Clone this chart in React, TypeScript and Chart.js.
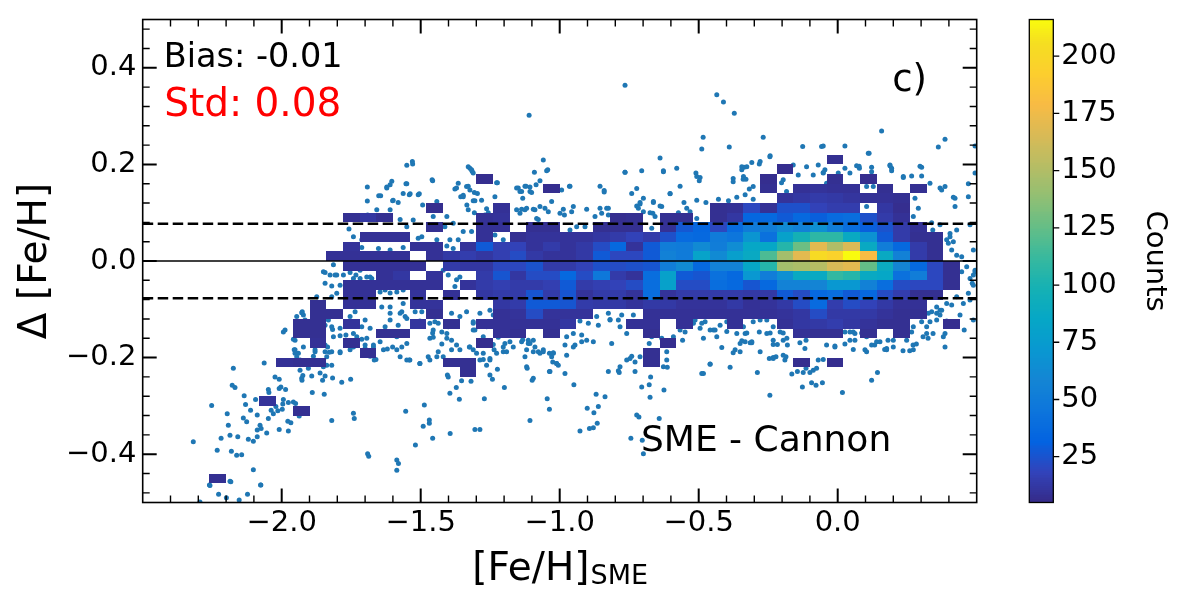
import React, { useEffect, useRef } from "react";
import { Chart, registerables } from "chart.js";

Chart.register(...registerables);

const FONT = "'DejaVu Sans', Arial, sans-serif";

// axes
const X_MIN = -2.5, X_MAX = 0.5, Y_MIN = -0.5, Y_MAX = 0.5;
const X_TICKS = [-2.0, -1.5, -1.0, -0.5, 0.0];
const Y_TICKS = [-0.4, -0.2, 0.0, 0.2, 0.4];
const X_MINOR = [-2.4, -2.3, -2.2, -2.1, -1.9, -1.8, -1.7, -1.6, -1.4, -1.3, -1.2, -1.1, -0.9, -0.8, -0.7, -0.6, -0.4, -0.3, -0.2, -0.1, 0.1, 0.2, 0.3, 0.4];
const Y_MINOR = [-0.48, -0.44, -0.36, -0.32, -0.28, -0.24, -0.16, -0.12, -0.08, -0.04, 0.04, 0.08, 0.12, 0.16, 0.24, 0.28, 0.32, 0.36, 0.44, 0.48];

// colorbar
const CB_MIN = 5, CB_MAX = 216;
const CB_TICKS = [25, 50, 75, 100, 125, 150, 175, 200];

// statistics
const BIAS = -0.01;
const STD = 0.077;
const ZERO_LINE = 0;

// 2D histogram binning: [yBinIndex, firstXBinIndex, counts...]
const BIN_X0 = -2.5, BIN_DX = 0.06, BIN_Y0 = -0.5, BIN_DY = 0.02;
const HIST_SEGMENTS: [number, number, number[]][] = [
  [35, 41, [8]],
  [34, 38, [7]],
  [33, 20, [7]], [33, 37, [7]], [33, 41, [8, 0, 7]],
  [32, 24, [7]], [32, 37, [8, 0, 9, 10, 9, 9, 0, 8, 0, 8]],
  [31, 38, [10, 12, 14, 13, 11, 9, 9, 8]],
  [30, 17, [7]], [30, 21, [9]], [30, 34, [8, 9, 20, 9, 24, 24, 18, 15, 15, 0, 12, 7]],
  [29, 12, [8, 12, 8]], [29, 20, [9, 10]], [29, 28, [7, 8, 0, 8, 8, 0, 8, 12, 35, 36, 28, 36, 30, 38, 40, 24, 14, 9]],
  [28, 17, [8]], [28, 20, [9, 9, 0, 8, 8, 0, 0, 8, 8, 8, 0, 9, 27, 35, 20, 38, 50, 52, 62, 55, 66, 52, 40, 30, 25, 14, 9]],
  [27, 13, [9, 9, 9]], [27, 20, [9, 0, 8, 10, 10, 10, 10, 12, 14, 18, 14, 24, 38, 36, 50, 46, 70, 42, 80, 98, 108, 108, 88, 68, 28, 14, 8, 8]],
  [26, 12, [10]], [26, 16, [9, 9, 0, 10, 28, 16, 18, 10, 14, 10, 13, 22, 36, 10, 28, 52, 50, 62, 52, 64, 85, 85, 105, 128, 170, 150, 166, 88, 52, 36, 14, 8]],
  [25, 11, [9, 9, 9, 9, 9, 0, 9, 13, 15, 12, 16, 22, 13, 10, 10, 13, 28, 20, 20, 28, 55, 50, 82, 62, 78, 88, 118, 145, 170, 203, 196, 216, 180, 88, 55, 14, 8]],
  [24, 12, [9, 9, 9, 9, 9, 0, 14, 12, 12, 20, 20, 25, 14, 14, 18, 24, 22, 24, 26, 52, 62, 36, 56, 56, 85, 105, 145, 148, 152, 165, 170, 125, 90, 58, 36, 20, 8]],
  [23, 14, [9, 12, 0, 10, 0, 0, 14, 26, 12, 22, 22, 36, 22, 48, 14, 10, 40, 80, 28, 26, 42, 36, 72, 52, 66, 88, 88, 110, 105, 88, 85, 42, 52, 20, 8]],
  [22, 12, [9, 9, 9, 9, 9, 9, 0, 10, 14, 16, 14, 14, 16, 28, 14, 16, 18, 22, 40, 80, 22, 22, 40, 36, 26, 36, 56, 56, 58, 72, 72, 55, 40, 22, 20, 20, 8]],
  [21, 12, [9, 9, 0, 0, 10, 0, 9, 0, 12, 14, 14, 26, 14, 26, 10, 14, 14, 10, 40, 10, 14, 14, 14, 14, 13, 13, 28, 22, 36, 40, 28, 36, 22, 15, 8, 8]],
  [20, 10, [8, 0, 9, 9, 0, 0, 10, 10, 0, 0, 0, 12, 14, 28, 28, 26, 14, 13, 13, 10, 13, 13, 10, 10, 10, 13, 9, 10, 13, 22, 38, 15, 22, 18, 13, 9, 9]],
  [19, 10, [8, 8, 0, 0, 0, 0, 0, 8, 0, 0, 0, 9, 10, 22, 10, 10, 10, 0, 0, 0, 9, 9, 9, 9, 9, 9, 9, 9, 10, 12, 22, 13, 13, 13, 10, 8, 8]],
  [18, 9, [8, 8, 0, 10, 0, 0, 0, 11, 0, 8, 0, 9, 9, 9, 9, 9, 12, 0, 0, 0, 9, 9, 0, 9, 0, 0, 9, 0, 0, 9, 12, 13, 15, 12, 10, 8, 8, 0, 0, 7]],
  [17, 9, [8, 8]], [17, 14, [8, 8]], [17, 21, [9, 8, 0, 8]], [17, 30, [8]], [17, 39, [9, 8, 8, 0, 8, 0, 8]],
  [16, 10, [9, 0, 8]], [16, 20, [7]], [16, 31, [7]],
  [15, 13, [8]], [15, 30, [8]],
  [14, 8, [9, 8, 8]], [14, 18, [8, 8]], [14, 30, [8]], [14, 39, [7, 0, 7]],
  [13, 19, [8]],
  [10, 7, [10]],
  [9, 9, [8]],
  [2, 4, [8]],
];

// individual stars ([Fe/H]_SME, delta)
const SCATTER_POINTS: [number, number][] = [
  [-1.110, 0.302], [-1.059, 0.209], [-1.091, 0.184], [-1.047, 0.187], [-1.550, 0.198], [-1.530, 0.206], [-1.529, 0.201], [-1.692, 0.153], [-1.604, 0.165], [-1.622, 0.153],
  [-1.651, 0.135], [-1.692, 0.124], [-1.601, 0.125], [-1.581, 0.121], [-1.550, 0.160], [-1.563, 0.140], [-1.538, 0.139], [-1.505, 0.139], [-1.493, 0.116], [-1.459, 0.168],
  [-1.455, 0.092], [-1.329, 0.195], [-1.323, 0.192], [-1.315, 0.186], [-1.365, 0.161], [-1.377, 0.149], [-1.329, 0.155], [-1.323, 0.147], [-1.307, 0.142], [-1.356, 0.133],
  [-1.347, 0.136], [-1.311, 0.125], [-1.305, 0.125], [-1.334, 0.116], [-1.329, 0.106], [-1.307, 0.100], [-1.263, 0.108], [-1.257, 0.100], [-1.227, 0.162], [-1.149, 0.151],
  [-1.107, 0.144], [-1.125, 0.155], [-1.107, 0.153], [-1.101, 0.142], [-1.155, 0.106], [-1.137, 0.107], [-1.119, 0.109], [-1.089, 0.106], [-1.071, 0.113], [-1.053, 0.109],
  [-1.041, 0.102], [-1.610, 0.158], [-1.622, 0.151], [-1.644, 0.135], [-1.599, 0.126], [-1.553, 0.160], [-1.541, 0.137], [-1.509, 0.137], [-1.442, 0.123], [-1.457, 0.166],
  [-1.406, 0.092], [-1.371, 0.151], [-1.347, 0.133], [-1.335, 0.154], [-1.317, 0.189], [-1.311, 0.182], [-1.296, 0.140], [-1.281, 0.126], [-1.269, 0.095], [-1.224, 0.162],
  [-1.233, 0.133], [-1.155, 0.151], [-1.143, 0.144], [-1.133, 0.130], [-1.143, 0.099], [-1.125, 0.106], [-1.691, 0.095], [-1.658, 0.106], [-1.610, 0.106], [-1.574, 0.086],
  [-1.550, 0.071], [-1.527, 0.085], [-1.496, 0.050], [-1.413, 0.071], [-1.383, 0.078], [-1.395, 0.044], [-1.365, 0.044], [-1.347, 0.061], [-1.317, 0.061], [-1.758, 0.066],
  [-1.742, 0.050], [-1.712, 0.044], [-1.760, 0.033], [-1.712, 0.028], [-1.652, 0.026], [-1.610, 0.023], [-1.563, 0.028], [-1.509, 0.047], [-1.442, 0.044], [-1.406, 0.031],
  [-1.383, 0.026], [-1.233, 0.054], [-1.203, 0.044], [-0.669, 0.068], [-0.507, 0.088], [0.104, 0.113], [-0.867, -0.115], [-0.735, -0.112],
  [-1.814, -0.008], [-1.826, -0.029], [-1.802, -0.029], [-1.850, -0.022], [-1.844, -0.046], [-1.820, -0.052], [-1.874, -0.074], [-1.820, -0.074], [-1.802, -0.067], [-1.926, -0.105],
  [-1.946, -0.115], [-1.916, -0.122], [-1.832, -0.122], [-1.820, -0.136], [-1.814, -0.157], [-1.790, -0.155], [-1.952, -0.164], [-1.952, -0.184], [-1.940, -0.191], [-1.922, -0.178],
  [-1.844, -0.188], [-1.820, -0.188], [-1.838, -0.198], [-1.790, -0.190], [-1.682, -0.033], [-1.646, -0.026], [-1.718, -0.019], [-1.610, -0.036], [-1.574, -0.019], [-1.442, -0.029],
  [-1.401, -0.029], [-1.419, -0.019], [-1.371, -0.039], [-1.377, -0.053], [-1.359, -0.033], [-1.610, -0.095], [-1.640, -0.095], [-1.563, -0.088], [-1.610, -0.108], [-1.574, -0.108],
  [-1.556, -0.115], [-1.628, -0.136], [-1.610, -0.122], [-1.581, -0.133], [-1.646, -0.167], [-1.670, -0.174], [-1.700, -0.174], [-1.700, -0.122], [-1.712, -0.136], [-1.682, -0.139],
  [-1.754, -0.115], [-1.736, -0.105], [-1.742, -0.133], [-1.467, -0.129], [-1.455, -0.143], [-1.437, -0.129], [-1.406, -0.150], [-1.401, -0.136], [-1.371, -0.129], [-1.359, -0.115],
  [-1.335, -0.105], [-1.311, -0.129], [-1.305, -0.143], [-1.275, -0.157], [-1.263, -0.136], [-1.251, -0.167], [-1.227, -0.146], [-1.203, -0.150], [-1.179, -0.167], [-1.167, -0.178],
  [-1.137, -0.167], [-1.131, -0.150], [-1.119, -0.219], [-1.125, -0.198], [-1.275, -0.191], [-1.227, -0.191], [-1.251, -0.205], [-1.203, -0.188], [-1.323, -0.178], [-1.419, -0.198],
  [-1.442, -0.198], [-1.467, -0.205], [-1.503, -0.212], [-1.539, -0.205], [-1.670, -0.188], [-1.634, -0.184], [-1.586, -0.184], [-1.574, -0.198], [-1.550, -0.205], [-1.898, -0.212],
  [-1.934, -0.226], [-1.850, -0.219], [-1.880, -0.188],
  [-2.318, -0.374], [-2.252, -0.299], [-2.232, -0.392], [-2.218, -0.367], [-2.196, -0.316], [-2.192, -0.340], [-2.186, -0.361], [-2.181, -0.394], [-2.174, -0.222], [-2.178, -0.257],
  [-2.168, -0.262], [-2.158, -0.364], [-2.162, -0.402], [-2.144, -0.401], [-2.135, -0.279], [-2.130, -0.297], [-2.138, -0.325], [-2.126, -0.333], [-2.112, -0.309], [-2.120, -0.369],
  [-2.102, -0.373], [-2.088, -0.364], [-2.088, -0.350], [-2.102, -0.432], [-2.094, -0.287], [-2.088, -0.319], [-2.078, -0.340], [-2.074, -0.347], [-2.076, -0.464], [-2.063, -0.211],
  [-2.054, -0.356], [-2.048, -0.266], [-2.046, -0.272], [-2.048, -0.326], [-2.038, -0.309], [-2.030, -0.316], [-2.024, -0.240], [-2.009, -0.245], [-2.009, -0.264], [-2.021, -0.301],
  [-2.014, -0.310], [-2.009, -0.349], [-2.003, -0.261], [-1.998, -0.307], [-1.996, -0.296], [-1.986, -0.266], [-1.978, -0.332], [-1.976, -0.352], [-1.967, -0.335], [-1.994, -0.287],
  [-1.976, -0.293], [-1.958, -0.292], [-1.950, -0.295], [-1.937, -0.321], [-1.927, -0.314], [-1.928, -0.243], [-1.927, -0.247], [-1.924, -0.237], [-1.892, -0.238], [-1.904, -0.222],
  [-1.886, -0.197], [-1.880, -0.184], [-1.862, -0.232], [-1.853, -0.247], [-1.844, -0.238], [-1.890, -0.272], [-1.847, -0.276], [-1.820, -0.330], [-1.955, -0.184], [-1.952, -0.191],
  [-1.946, -0.198], [-1.934, -0.205], [-1.994, -0.147], [-1.988, -0.143], [-1.958, -0.162], [-1.928, -0.107], [-1.922, -0.112], [-1.838, -0.216], [-1.820, -0.216], [-1.817, -0.242],
  [-1.784, -0.251], [-1.752, -0.245], [-1.742, -0.315], [-1.739, -0.326], [-1.754, -0.184], [-1.742, -0.178], [-1.769, -0.164], [-1.790, -0.188], [-1.835, -0.178], [-1.829, -0.189],
  [-1.844, -0.174], [-1.691, -0.399], [-1.687, -0.404], [-1.682, -0.197], [-1.667, -0.205], [-1.661, -0.204], [-1.620, -0.182], [-1.586, -0.412], [-1.580, -0.419], [-1.586, -0.433],
  [-1.554, -0.311], [-1.541, -0.205], [-1.519, -0.381], [-1.503, -0.212], [-1.491, -0.342], [-1.487, -0.298], [-1.469, -0.329], [-1.469, -0.336], [-1.457, -0.367], [-1.473, -0.198],
  [-1.437, -0.188], [-1.404, -0.236], [-1.401, -0.240], [-1.395, -0.274], [-1.372, -0.262], [-1.361, -0.286], [-1.353, -0.248], [-1.319, -0.249], [-1.394, -0.357], [-1.305, -0.349],
  [-1.287, -0.349], [-1.271, -0.285], [-1.275, -0.204], [-1.263, -0.216], [-1.251, -0.236], [-1.242, -0.245], [-1.236, -0.184], [-1.224, -0.224], [-1.239, -0.173], [-1.203, -0.178],
  [-1.197, -0.171], [-1.199, -0.262], [-1.117, -0.222], [-1.099, -0.247], [-1.107, -0.330], [-1.045, -0.285], [-1.037, -0.307], [-1.037, -0.229], [-1.011, -0.212], [-1.005, -0.216],
  [-1.023, -0.191], [-1.029, -0.198], [-1.133, -0.163], [-1.113, -0.171], [-1.089, -0.178], [-1.077, -0.188], [-1.059, -0.184], [-1.191, -0.150], [-1.167, -0.137], [-1.221, -0.158],
  [-1.191, -0.188], [-1.325, -0.178], [-1.311, -0.184], [-1.299, -0.191], [-1.287, -0.205], [-1.251, -0.202], [-1.371, -0.174], [-1.359, -0.184], [-1.406, -0.160], [-1.389, -0.184],
  [-1.467, -0.160], [-1.457, -0.149], [-1.527, -0.135], [-1.503, -0.124], [-1.586, -0.157], [-1.550, -0.171], [-1.568, -0.178], [-1.601, -0.178], [-1.712, -0.162], [-1.694, -0.160],
  [-1.730, -0.157], [-1.700, -0.181], [-1.670, -0.178], [-1.790, -0.139], [-1.769, -0.153], [-1.742, -0.150], [-1.844, -0.133], [-1.817, -0.142], [-1.880, -0.131], [-1.862, -0.150],
  [-1.886, -0.143], [-1.922, -0.133], [-1.901, -0.150], [-1.844, -0.024], [-1.808, -0.029], [-1.790, -0.050], [-1.778, -0.029], [-1.754, -0.024], [-1.742, -0.036], [-1.733, -0.029],
  [-1.718, -0.036], [-1.694, -0.033], [-1.676, -0.036], [-1.646, -0.064], [-1.628, -0.060], [-1.610, -0.066], [-1.586, -0.064], [-1.563, -0.060], [-1.568, -0.105], [-1.550, -0.119],
  [-1.520, -0.105], [-1.496, -0.105], [-1.455, -0.107], [-1.449, -0.126], [-1.389, -0.108], [-1.377, -0.126], [-1.424, -0.147], [-1.455, -0.158], [-1.424, -0.172], [-1.389, -0.164],
  [-1.311, -0.126], [-1.311, -0.143], [-1.287, -0.108], [-1.251, -0.102], [-1.239, -0.112], [-1.215, -0.115], [-1.193, -0.136], [-1.197, -0.098], [-1.161, -0.102], [-1.143, -0.115],
  [-1.119, -0.184], [-1.059, -0.188], [-1.037, -0.191], [-1.095, -0.164],
  [-2.258, -0.465], [-2.183, -0.457], [-2.075, -0.464], [-2.227, -0.483], [-2.199, -0.490], [-2.153, -0.495], [-2.123, -0.483], [-2.294, -0.499], [-2.260, -0.464], [-2.186, -0.456],
  [-1.043, 0.189], [-1.071, 0.166], [-1.121, 0.155], [-1.085, 0.158], [-1.137, 0.144], [-1.095, 0.107], [-1.077, 0.086], [-1.083, 0.088], [-1.029, 0.123], [-0.987, 0.107],
  [-0.957, 0.102], [-0.963, 0.064], [-0.999, 0.099], [-0.983, 0.095], [-0.963, 0.155], [-0.855, 0.155], [-0.840, 0.146], [-0.849, 0.099], [-0.831, 0.109], [-0.825, 0.095],
  [-0.795, 0.092], [-0.771, 0.088], [-0.765, 0.184], [-0.741, 0.140], [-0.723, 0.114], [-0.699, 0.130], [-0.711, 0.118], [-0.717, 0.109], [-0.663, 0.121], [-0.665, 0.099],
  [-0.657, 0.092], [-0.633, 0.113], [-0.627, 0.187], [-0.603, 0.140], [-0.579, 0.192], [-0.567, 0.155], [-0.553, 0.121], [-0.543, 0.109], [-0.510, 0.182], [-0.495, 0.173],
  [-0.507, 0.126], [-0.474, 0.121], [-0.447, 0.109], [-0.429, 0.128], [-0.393, 0.125], [-0.376, 0.164], [-0.363, 0.132], [-0.339, 0.175], [-0.345, 0.195],
  [-0.825, -0.108], [-0.819, -0.121], [-0.927, -0.124], [-0.897, -0.129], [-0.861, -0.133], [-0.951, -0.150], [-0.921, -0.153], [-0.975, -0.157], [-1.113, -0.164], [-1.107, -0.171],
  [-1.095, -0.188], [-1.071, -0.191], [-1.023, -0.190], [-1.011, -0.212], [-1.025, -0.209], [-0.981, -0.174], [-0.945, -0.174], [-0.975, -0.195], [-0.903, -0.164], [-0.813, -0.171],
  [-0.783, -0.136], [-0.759, -0.150], [-0.759, -0.205], [-0.783, -0.219], [-0.729, -0.209], [-0.711, -0.198], [-0.678, -0.171], [-0.669, -0.157], [-0.615, -0.188], [-0.615, -0.205],
  [-0.591, -0.157], [-0.558, -0.164], [-0.519, -0.129], [-0.489, -0.129], [-0.447, -0.143], [-0.423, -0.133], [-0.363, -0.150], [-0.351, -0.171], [-0.376, -0.190], [-0.351, -0.188],
  [-0.417, -0.179], [-0.387, -0.220], [-0.459, -0.213], [-0.489, -0.233], [-0.627, -0.219], [-0.729, -0.229], [-0.825, -0.229], [-0.981, -0.233], [-1.035, -0.229], [-1.095, -0.243],
  [-0.949, -0.256], [-0.869, -0.276], [-0.837, -0.281], [-0.901, -0.305], [-0.877, -0.314], [-0.861, -0.301], [-0.927, -0.352], [-0.893, -0.347], [-0.879, -0.345], [-0.865, -0.336],
  [-0.744, -0.367], [-0.703, -0.371], [-0.699, -0.399], [-0.723, -0.319], [-0.715, -0.323], [-0.705, -0.261], [-0.678, -0.256], [-0.675, -0.282], [-0.642, -0.326], [-0.625, -0.267],
  [-0.789, -0.227], [-0.786, -0.231], [-0.673, -0.240], [-0.613, -0.220], [-0.741, -0.197], [-0.483, -0.233], [-0.459, -0.214], [-0.289, -0.231], [-0.244, -0.278], [-0.165, -0.234],
  [-0.145, -0.229], [-0.124, -0.231], [-0.114, -0.222], [-0.100, -0.231], [-0.088, -0.226], [-0.076, -0.222], [-0.052, -0.204], [-0.070, -0.205], [-0.124, -0.212], [-0.127, -0.261],
  [-0.094, -0.252], [-0.078, -0.257], [-0.055, -0.252], [0.017, -0.272], [0.122, -0.247], [0.143, -0.231], [-0.040, -0.174], [-0.010, -0.178], [0.026, -0.172], [0.056, -0.183],
  [0.098, -0.184], [0.104, -0.188], [0.133, -0.174], [0.169, -0.183], [0.181, -0.164], [0.235, -0.186], [0.259, -0.186], [0.271, -0.174], [0.283, -0.172], [0.325, -0.160],
  [0.343, -0.150], [0.307, -0.157], [0.386, -0.178], [0.380, -0.157], [-0.333, -0.167], [-0.309, -0.169], [-0.279, -0.188], [-0.246, -0.202], [-0.222, -0.198], [-0.186, -0.198],
  [-0.232, -0.173], [-0.217, -0.173], [-0.181, -0.174], [-0.118, -0.181], [-0.114, -0.164], [-0.369, -0.184], [-0.459, -0.143], [-0.495, -0.139], [-0.435, -0.157], [-0.483, -0.160],
  [-0.399, -0.146], [-0.345, -0.165], [-0.315, -0.169], [0.332, -0.126], [0.356, -0.108], [0.368, -0.102], [0.410, -0.091], [0.392, -0.124], [0.320, -0.150], [0.386, -0.150],
  [0.422, -0.133], [0.440, -0.112], [0.452, -0.088], [0.470, -0.067], [0.484, -0.046], [0.455, -0.143], [0.494, -0.022], [-0.951, -0.178], [-0.921, -0.167], [-0.879, -0.167],
  [-0.819, -0.122], [-0.789, -0.122], [-0.777, -0.112], [-0.747, -0.202], [-0.633, -0.160], [-0.567, -0.143], [-0.549, -0.147], [-0.513, -0.122], [-0.477, -0.126], [-0.441, -0.143],
  [-0.399, -0.126], [-0.351, -0.126], [-0.333, -0.150], [-0.304, -0.126], [-0.282, -0.147], [-0.255, -0.122], [-0.232, -0.136], [-0.183, -0.160], [0.026, -0.147], [0.056, -0.147],
  [0.086, -0.149], [0.200, -0.178], [0.248, -0.164], [0.302, -0.126], [0.320, -0.136], [0.356, -0.122],
  [-0.052, 0.238], [0.026, 0.238], [0.362, 0.236], [-0.243, 0.218], [-0.282, 0.201], [-0.337, 0.194], [-0.330, 0.169], [-0.070, 0.199], [-0.046, 0.189], [-0.052, 0.183],
  [0.002, 0.182], [0.044, 0.182], [0.068, 0.197], [0.078, 0.192], [0.122, 0.194], [0.110, 0.223], [0.188, 0.197], [0.194, 0.187], [0.236, 0.173], [0.266, 0.176],
  [0.302, 0.194], [0.302, 0.176], [0.332, 0.161], [0.368, 0.151], [0.374, 0.147], [0.416, 0.132], [0.470, 0.160], [0.494, 0.238], [0.494, 0.182], [-0.304, 0.154],
  [-0.318, 0.149], [-0.304, 0.128], [-0.333, 0.137], [-0.184, 0.144], [-0.178, 0.120], [-0.142, 0.178], [-0.196, 0.168], [-0.202, 0.162], [-0.118, 0.142], [-0.076, 0.154],
  [-0.040, 0.154], [0.104, 0.154], [0.128, 0.154], [0.098, 0.164], [0.236, 0.123], [0.278, 0.130], [0.290, 0.109], [0.338, 0.079], [0.342, 0.064], [0.404, 0.050],
  [0.416, 0.040], [0.368, 0.075], [0.398, 0.037], [0.332, 0.050], [0.272, 0.092], [0.476, -0.036], [0.488, -0.050], [0.446, -0.022], [0.476, -0.081], [0.374, -0.102],
  [0.368, -0.112], [0.338, -0.105], [0.266, -0.147], [0.272, -0.136], [0.488, -0.122], [-0.327, -0.149], [-0.309, -0.167], [-0.232, -0.164], [-0.232, -0.200], [-0.196, -0.195],
  [-0.190, -0.205], [-0.196, -0.164], [-0.136, -0.169], [-0.010, -0.176], [0.044, -0.147], [0.062, -0.150], [0.104, -0.157], [0.152, -0.167], [0.176, -0.181], [0.272, -0.184],
  [0.410, 0.023], [0.428, 0.012], [0.488, -0.029], [0.494, -0.019], [0.320, 0.050], [0.392, 0.044], [0.404, 0.057], [0.428, 0.064], [0.476, 0.075], [0.488, 0.023],
  [0.446, 0.009], [0.464, -0.012], [0.416, -0.022], [0.368, -0.067], [0.392, -0.088], [0.428, -0.074], [0.356, -0.095], [0.326, -0.108], [-0.339, -0.136], [-0.279, -0.122],
  [-0.255, -0.150], [-0.243, -0.149], [-0.207, -0.147], [-0.196, -0.149], [0.044, -0.164], [0.062, -0.164], [0.122, -0.174], [0.140, -0.167], [0.176, -0.184], [0.200, -0.164],
  [-0.232, -0.202], [-0.765, 0.364], [-0.435, 0.344], [-0.411, 0.329], [-0.372, 0.306], [-0.484, 0.256], [-0.489, 0.232], [-0.390, 0.236], [-0.268, 0.256], [-0.244, 0.216],
  [0.158, 0.269], [0.386, 0.252], [0.113, 0.223], [-0.639, 0.213], [-0.765, 0.184], [-0.705, 0.187], [-0.627, 0.185], [-0.965, 0.155], [-0.993, 0.147], [-0.840, 0.143],
  [-0.723, 0.150], [-0.603, 0.139], [-0.507, 0.175], [-0.498, 0.166], [-0.376, 0.171], [-0.345, 0.189], [-0.340, 0.169], [-0.711, 0.121], [-0.663, 0.123], [-0.639, 0.114],
  [-0.699, 0.102], [-0.855, 0.109], [-0.825, 0.109], [-0.951, 0.113], [-0.903, 0.107], [-0.873, 0.092], [-0.939, 0.071], [-0.909, 0.071], [-0.675, 0.100], [-0.573, 0.100],
  [-0.531, 0.102], [-0.052, 0.182], [-0.040, 0.161], [-0.004, 0.206], [0.026, 0.192], [0.077, 0.196], [0.122, 0.185], [0.188, 0.199], [0.194, 0.192], [0.236, 0.175],
  [0.296, 0.196], [0.386, 0.154], [0.422, 0.130], [0.422, 0.113], [0.470, 0.133], [-0.327, 0.195], [-0.309, 0.204], [-0.279, 0.206], [-0.160, 0.199], [-0.126, 0.237],
  [-0.058, 0.237], [-0.112, 0.195], [-0.088, 0.178],
];

// parula colormap stops
const PARULA: [number, number, number][] = [
  [53, 42, 135], [50, 67, 186], [3, 99, 225], [13, 117, 220], [20, 133, 212], [9, 152, 209],
  [6, 167, 198], [21, 177, 180], [56, 185, 158], [101, 190, 134], [146, 191, 115], [183, 189, 100],
  [217, 186, 86], [248, 187, 68], [252, 206, 46], [245, 222, 33], [249, 251, 14],
];
const PARULA_POS = [0, 4, 8, 12, 16, 20, 24, 28, 32, 36, 40, 44, 48, 52, 56, 60, 63].map((v) => v / 63);

function parula(t: number): string {
  const u = Math.max(0, Math.min(1, t));
  let i = 0;
  while (i < PARULA_POS.length - 2 && u > PARULA_POS[i + 1]) i++;
  const f = (u - PARULA_POS[i]) / (PARULA_POS[i + 1] - PARULA_POS[i]);
  const a = PARULA[i], b = PARULA[i + 1];
  const c = [0, 1, 2].map((k) => Math.round(a[k] + (b[k] - a[k]) * f));
  return `rgb(${c[0]},${c[1]},${c[2]})`;
}

const fmtAxis = (v: number) => (Math.abs(v) < 1e-9 ? "0.0" : v.toFixed(1)).replace("-", "\u2212");

const overlayPlugin = {
  id: "overlay",
  afterDatasetsDraw(chart: any) {
    const { ctx, chartArea: a, scales } = chart;
    const xs = scales.x, ys = scales.y, cb = scales.cb;
    ctx.save();

    // 2D histogram cells
    for (const [j, k0, counts] of HIST_SEGMENTS) {
      counts.forEach((c, i) => {
        if (c <= 0) return;
        const x0 = BIN_X0 + (k0 + i) * BIN_DX;
        const y0 = BIN_Y0 + j * BIN_DY;
        const l = Math.round(xs.getPixelForValue(x0));
        const r = Math.round(xs.getPixelForValue(x0 + BIN_DX));
        const t = Math.round(ys.getPixelForValue(y0 + BIN_DY));
        const b = Math.round(ys.getPixelForValue(y0));
        ctx.fillStyle = parula((c - CB_MIN) / (CB_MAX - CB_MIN));
        ctx.fillRect(l, t, r - l, b - t);
      });
    }

    // reference lines
    ctx.beginPath();
    ctx.rect(a.left, a.top, a.right - a.left, a.bottom - a.top);
    ctx.clip();
    ctx.strokeStyle = "#000";
    ctx.lineWidth = 1.3;
    const y0p = ys.getPixelForValue(ZERO_LINE);
    ctx.beginPath();
    ctx.moveTo(a.left, y0p);
    ctx.lineTo(a.right, y0p);
    ctx.stroke();
    ctx.lineWidth = 2.5;
    ctx.setLineDash([10.5, 4.5]);
    for (const v of [STD, -STD]) {
      const yp = ys.getPixelForValue(v);
      ctx.beginPath();
      ctx.moveTo(a.left, yp);
      ctx.lineTo(a.right, yp);
      ctx.stroke();
    }
    ctx.setLineDash([]);
    ctx.restore();
    ctx.save();

    // axis box
    ctx.strokeStyle = "#000";
    ctx.lineWidth = 1.6;
    ctx.strokeRect(a.left, a.top, a.right - a.left, a.bottom - a.top);

    // inward ticks on all four sides
    const tick = (vals: number[], len: number, w: number) => {
      ctx.lineWidth = w;
      ctx.beginPath();
      for (const v of vals) {
        const px = xs.getPixelForValue(v);
        ctx.moveTo(px, a.bottom); ctx.lineTo(px, a.bottom - len);
        ctx.moveTo(px, a.top); ctx.lineTo(px, a.top + len);
      }
      ctx.stroke();
    };
    const tickY = (vals: number[], len: number, w: number) => {
      ctx.lineWidth = w;
      ctx.beginPath();
      for (const v of vals) {
        const py = ys.getPixelForValue(v);
        ctx.moveTo(a.left, py); ctx.lineTo(a.left + len, py);
        ctx.moveTo(a.right, py); ctx.lineTo(a.right - len, py);
      }
      ctx.stroke();
    };
    tick(X_TICKS, 14, 2);
    tick(X_MINOR, 7, 1.4);
    tickY(Y_TICKS, 14, 2);
    tickY(Y_MINOR, 7, 1.4);

    // annotations
    ctx.textBaseline = "alphabetic";
    ctx.textAlign = "left";
    ctx.fillStyle = "#000";
    ctx.font = `33.5px ${FONT}`;
    ctx.fillText(`Bias: ${BIAS.toFixed(2)}`, a.left + 21, a.top + 47.5);
    ctx.fillStyle = "#ff0000";
    ctx.font = `39px ${FONT}`;
    ctx.fillText(`Std: ${STD.toFixed(2)}`, a.left + 21.5, a.top + 96.5);
    ctx.fillStyle = "#000";
    ctx.font = `37px ${FONT}`;
    ctx.fillText("c)", a.left + 749.5, a.top + 71.5);
    ctx.font = `36px ${FONT}`;
    ctx.fillText("SME - Cannon", a.left + 498.3, a.top + 431.5);

    // y axis title
    ctx.save();
    ctx.translate(46, (a.top + a.bottom) / 2);
    ctx.rotate(-Math.PI / 2);
    ctx.textAlign = "center";
    ctx.font = `39px ${FONT}`;
    ctx.fillText("\u0394 [Fe/H]", 0, 0);
    ctx.restore();

    // x axis title with subscript
    ctx.font = `39px ${FONT}`;
    const main = "[Fe/H]";
    const w1 = ctx.measureText(main).width;
    ctx.font = `27px ${FONT}`;
    const w2 = ctx.measureText("SME").width;
    const cx = (a.left + a.right) / 2;
    const sx = cx - (w1 + w2) / 2;
    ctx.font = `39px ${FONT}`;
    ctx.fillText(main, sx, a.bottom + 77.5);
    ctx.font = `27px ${FONT}`;
    ctx.fillText("SME", sx + w1 + 1, a.bottom + 81.5);

    // colorbar
    const cbL = a.right + 52.6, cbW = 24;
    const N = 256;
    for (let i = 0; i < N; i++) {
      const v0 = CB_MIN + ((CB_MAX - CB_MIN) * i) / N;
      const v1 = CB_MIN + ((CB_MAX - CB_MIN) * (i + 1)) / N;
      const yTop = cb.getPixelForValue(v1);
      const yBot = cb.getPixelForValue(v0);
      ctx.fillStyle = parula((i + 0.5) / N);
      ctx.fillRect(cbL, Math.floor(yTop), cbW, Math.ceil(yBot) - Math.floor(yTop));
    }
    const cbTop = cb.getPixelForValue(CB_MAX), cbBot = cb.getPixelForValue(CB_MIN);
    ctx.strokeStyle = "#000";
    ctx.lineWidth = 1.3;
    ctx.strokeRect(cbL, cbTop, cbW, cbBot - cbTop);
    ctx.beginPath();
    for (const v of CB_TICKS) {
      const py = cb.getPixelForValue(v);
      ctx.moveTo(cbL + cbW, py);
      ctx.lineTo(cbL + cbW + 6, py);
    }
    ctx.stroke();

    ctx.save();
    ctx.translate(1155, (cbTop + cbBot) / 2);
    ctx.rotate(Math.PI / 2);
    ctx.textAlign = "center";
    ctx.textBaseline = "middle";
    ctx.fillStyle = "#000";
    ctx.font = `29px ${FONT}`;
    ctx.fillText("Counts", 0, 0);
    ctx.restore();

    ctx.restore();
  },
};

export default function App() {
  const ref = useRef<HTMLCanvasElement | null>(null);
  useEffect(() => {
    if (!ref.current) return;
    const tickFont = { family: FONT, size: 29 };
    const noGrid = { display: false, drawTicks: false, tickLength: 0 };
    const chart = new Chart(ref.current, {
      type: "scatter",
      data: {
        datasets: [
          {
            data: SCATTER_POINTS.map(([x, y]) => ({ x, y })),
            backgroundColor: "#1f77b4",
            borderWidth: 0,
            pointRadius: 2.5,
            pointHoverRadius: 2.5,
          },
        ],
      },
      options: {
        animation: false,
        responsive: false,
        maintainAspectRatio: false,
        events: [],
        layout: { padding: { top: 19.5, right: 0, bottom: 0, left: 0 } },
        plugins: { legend: { display: false }, tooltip: { enabled: false } },
        scales: {
          x: {
            type: "linear",
            position: "bottom",
            min: X_MIN,
            max: X_MAX,
            grid: noGrid,
            border: { display: false },
            ticks: { font: tickFont, color: "#000", padding: 3.1, maxRotation: 0, autoSkip: false, callback: (v: any) => fmtAxis(Number(v)) },
            afterBuildTicks: (s: any) => { s.ticks = X_TICKS.map((value) => ({ value })); },
            afterFit: (s: any) => { s.height = 97.5; s.paddingLeft = 0; s.paddingRight = 0; },
          },
          y: {
            type: "linear",
            position: "left",
            min: Y_MIN,
            max: Y_MAX,
            grid: noGrid,
            border: { display: false },
            ticks: { font: tickFont, color: "#000", padding: 6.3, autoSkip: false, callback: (v: any) => fmtAxis(Number(v)) },
            afterBuildTicks: (s: any) => { s.ticks = Y_TICKS.map((value) => ({ value })); },
            afterFit: (s: any) => { s.width = 142.7; s.paddingTop = 0; s.paddingBottom = 0; },
          },
          cb: {
            type: "linear",
            position: "right",
            min: CB_MIN,
            max: CB_MAX,
            grid: noGrid,
            border: { display: false },
            ticks: { font: tickFont, color: "#000", padding: 84.6, autoSkip: false, callback: (v: any) => String(v) },
            afterBuildTicks: (s: any) => { s.ticks = CB_TICKS.map((value) => ({ value })); },
            afterFit: (s: any) => { s.width = 223.3; s.paddingTop = 0; s.paddingBottom = 0; },
          },
        },
      } as any,
      plugins: [overlayPlugin],
    });
    return () => chart.destroy();
  }, []);

  return (
    <div style={{ position: "fixed", left: 0, top: 0, width: 1200, height: 600, background: "#fff" }}>
      <canvas ref={ref} width={1200} height={600} style={{ display: "block", width: 1200, height: 600 }} />
    </div>
  );
}
